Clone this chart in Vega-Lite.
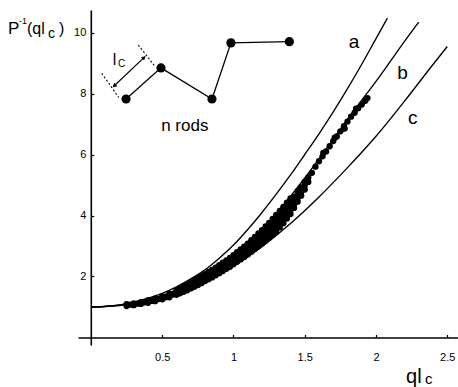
{
  "$schema": "https://vega.github.io/schema/vega-lite/v6.json",
  "width": 380,
  "height": 335,
  "autosize": "none",
  "padding": {"left": 78, "top": 10, "right": 0, "bottom": 42},
  "background": "white",
  "config": {"view": {"stroke": null}, "font": "Liberation Sans"},
  "datasets": {
    "curves": [
      {"curve": "a", "x": 0, "y": 1}, {"curve": "a", "x": 0.1, "y": 1.02}, {"curve": "a", "x": 0.2, "y": 1.07}, {"curve": "a", "x": 0.3, "y": 1.16},
      {"curve": "a", "x": 0.4, "y": 1.29}, {"curve": "a", "x": 0.5, "y": 1.45}, {"curve": "a", "x": 0.6, "y": 1.66}, {"curve": "a", "x": 0.7, "y": 1.92},
      {"curve": "a", "x": 0.8, "y": 2.22}, {"curve": "a", "x": 0.9, "y": 2.6}, {"curve": "a", "x": 1.0, "y": 3.03}, {"curve": "a", "x": 1.1, "y": 3.54},
      {"curve": "a", "x": 1.2, "y": 4.1}, {"curve": "a", "x": 1.3, "y": 4.7}, {"curve": "a", "x": 1.4, "y": 5.33}, {"curve": "a", "x": 1.5, "y": 6.0},
      {"curve": "a", "x": 1.6, "y": 6.68}, {"curve": "a", "x": 1.7, "y": 7.4}, {"curve": "a", "x": 1.8, "y": 8.16}, {"curve": "a", "x": 1.9, "y": 8.96},
      {"curve": "a", "x": 2.0, "y": 9.8}, {"curve": "a", "x": 2.08, "y": 10.47},
      {"curve": "b", "x": 0, "y": 1}, {"curve": "b", "x": 0.1, "y": 1.015}, {"curve": "b", "x": 0.2, "y": 1.06}, {"curve": "b", "x": 0.3, "y": 1.14},
      {"curve": "b", "x": 0.4, "y": 1.25}, {"curve": "b", "x": 0.5, "y": 1.38}, {"curve": "b", "x": 0.6, "y": 1.57}, {"curve": "b", "x": 0.7, "y": 1.79},
      {"curve": "b", "x": 0.8, "y": 2.06}, {"curve": "b", "x": 0.9, "y": 2.36}, {"curve": "b", "x": 1.0, "y": 2.7}, {"curve": "b", "x": 1.1, "y": 3.1},
      {"curve": "b", "x": 1.2, "y": 3.56}, {"curve": "b", "x": 1.3, "y": 4.07}, {"curve": "b", "x": 1.4, "y": 4.63}, {"curve": "b", "x": 1.5, "y": 5.23},
      {"curve": "b", "x": 1.6, "y": 5.86}, {"curve": "b", "x": 1.7, "y": 6.5}, {"curve": "b", "x": 1.8, "y": 7.16}, {"curve": "b", "x": 1.9, "y": 7.78},
      {"curve": "b", "x": 2.0, "y": 8.4}, {"curve": "b", "x": 2.1, "y": 9.05}, {"curve": "b", "x": 2.2, "y": 9.71}, {"curve": "b", "x": 2.3, "y": 10.34},
      {"curve": "c", "x": 0, "y": 1}, {"curve": "c", "x": 0.2, "y": 1.05}, {"curve": "c", "x": 0.4, "y": 1.19}, {"curve": "c", "x": 0.6, "y": 1.46},
      {"curve": "c", "x": 0.8, "y": 1.83}, {"curve": "c", "x": 1.0, "y": 2.34}, {"curve": "c", "x": 1.2, "y": 2.98}, {"curve": "c", "x": 1.4, "y": 3.74},
      {"curve": "c", "x": 1.6, "y": 4.61}, {"curve": "c", "x": 1.8, "y": 5.57}, {"curve": "c", "x": 2.0, "y": 6.6}, {"curve": "c", "x": 2.2, "y": 7.75},
      {"curve": "c", "x": 2.4, "y": 8.95}, {"curve": "c", "x": 2.5, "y": 9.54}
    ],
    "points": [
      {"x": 0.25, "y": 1.03}, {"x": 0.25, "y": 1.09}, {"x": 0.275, "y": 1.075}, {"x": 0.3, "y": 1.06}, {"x": 0.3, "y": 1.12},
      {"x": 0.325, "y": 1.11}, {"x": 0.35, "y": 1.1}, {"x": 0.35, "y": 1.16}, {"x": 0.375, "y": 1.15}, {"x": 0.4, "y": 1.14}, {"x": 0.4, "y": 1.22},
      {"x": 0.425, "y": 1.2}, {"x": 0.45, "y": 1.19}, {"x": 0.45, "y": 1.27}, {"x": 0.475, "y": 1.26}, {"x": 0.5, "y": 1.25}, {"x": 0.5, "y": 1.35},
      {"x": 0.525, "y": 1.32}, {"x": 0.55, "y": 1.32}, {"x": 0.55, "y": 1.44}, {"x": 0.575, "y": 1.41},
      {"x": 0.6, "y": 1.4}, {"x": 0.6, "y": 1.48}, {"x": 0.6, "y": 1.55},
      {"x": 0.625, "y": 1.45}, {"x": 0.625, "y": 1.53}, {"x": 0.625, "y": 1.61},
      {"x": 0.65, "y": 1.5}, {"x": 0.65, "y": 1.59}, {"x": 0.65, "y": 1.68},
      {"x": 0.675, "y": 1.55}, {"x": 0.675, "y": 1.65}, {"x": 0.675, "y": 1.74},
      {"x": 0.7, "y": 1.61}, {"x": 0.7, "y": 1.71}, {"x": 0.7, "y": 1.81},
      {"x": 0.725, "y": 1.66}, {"x": 0.725, "y": 1.77}, {"x": 0.725, "y": 1.88},
      {"x": 0.75, "y": 1.72}, {"x": 0.75, "y": 1.83}, {"x": 0.75, "y": 1.95},
      {"x": 0.775, "y": 1.78}, {"x": 0.775, "y": 1.9}, {"x": 0.775, "y": 2.01},
      {"x": 0.8, "y": 1.85}, {"x": 0.8, "y": 1.96}, {"x": 0.8, "y": 2.08},
      {"x": 0.825, "y": 1.91}, {"x": 0.825, "y": 2.03}, {"x": 0.825, "y": 2.15},
      {"x": 0.85, "y": 1.97}, {"x": 0.85, "y": 2.09}, {"x": 0.85, "y": 2.22},
      {"x": 0.875, "y": 2.04}, {"x": 0.875, "y": 2.16}, {"x": 0.875, "y": 2.29},
      {"x": 0.9, "y": 2.11}, {"x": 0.9, "y": 2.24}, {"x": 0.9, "y": 2.37},
      {"x": 0.925, "y": 2.18}, {"x": 0.925, "y": 2.31}, {"x": 0.925, "y": 2.45},
      {"x": 0.95, "y": 2.25}, {"x": 0.95, "y": 2.39}, {"x": 0.95, "y": 2.53},
      {"x": 0.975, "y": 2.32}, {"x": 0.975, "y": 2.47}, {"x": 0.975, "y": 2.61},
      {"x": 1.0, "y": 2.4}, {"x": 1.0, "y": 2.5}, {"x": 1.0, "y": 2.6}, {"x": 1.0, "y": 2.7},
      {"x": 1.025, "y": 2.48}, {"x": 1.025, "y": 2.59}, {"x": 1.025, "y": 2.69}, {"x": 1.025, "y": 2.8},
      {"x": 1.05, "y": 2.56}, {"x": 1.05, "y": 2.67}, {"x": 1.05, "y": 2.78}, {"x": 1.05, "y": 2.89},
      {"x": 1.075, "y": 2.64}, {"x": 1.075, "y": 2.76}, {"x": 1.075, "y": 2.87}, {"x": 1.075, "y": 2.98},
      {"x": 1.1, "y": 2.72}, {"x": 1.1, "y": 2.84}, {"x": 1.1, "y": 2.96}, {"x": 1.1, "y": 3.08},
      {"x": 1.125, "y": 2.81}, {"x": 1.125, "y": 2.93}, {"x": 1.125, "y": 3.06}, {"x": 1.125, "y": 3.19},
      {"x": 1.15, "y": 2.9}, {"x": 1.15, "y": 3.03}, {"x": 1.15, "y": 3.16}, {"x": 1.15, "y": 3.3},
      {"x": 1.175, "y": 2.99}, {"x": 1.175, "y": 3.13}, {"x": 1.175, "y": 3.27}, {"x": 1.175, "y": 3.41},
      {"x": 1.2, "y": 3.08}, {"x": 1.2, "y": 3.19}, {"x": 1.2, "y": 3.3}, {"x": 1.2, "y": 3.41}, {"x": 1.2, "y": 3.52},
      {"x": 1.225, "y": 3.17}, {"x": 1.225, "y": 3.29}, {"x": 1.225, "y": 3.4}, {"x": 1.225, "y": 3.52}, {"x": 1.225, "y": 3.64},
      {"x": 1.25, "y": 3.27}, {"x": 1.25, "y": 3.39}, {"x": 1.25, "y": 3.51}, {"x": 1.25, "y": 3.64}, {"x": 1.25, "y": 3.76},
      {"x": 1.275, "y": 3.37}, {"x": 1.275, "y": 3.5}, {"x": 1.275, "y": 3.63}, {"x": 1.275, "y": 3.76}, {"x": 1.275, "y": 3.89},
      {"x": 1.3, "y": 3.47}, {"x": 1.3, "y": 3.61}, {"x": 1.3, "y": 3.75}, {"x": 1.3, "y": 3.88}, {"x": 1.3, "y": 4.02},
      {"x": 1.325, "y": 3.61}, {"x": 1.325, "y": 3.74}, {"x": 1.325, "y": 3.88}, {"x": 1.325, "y": 4.01}, {"x": 1.325, "y": 4.15},
      {"x": 1.35, "y": 3.75}, {"x": 1.35, "y": 3.88}, {"x": 1.35, "y": 4.02}, {"x": 1.35, "y": 4.15}, {"x": 1.35, "y": 4.28},
      {"x": 1.375, "y": 3.9}, {"x": 1.375, "y": 4.03}, {"x": 1.375, "y": 4.16}, {"x": 1.375, "y": 4.29}, {"x": 1.375, "y": 4.42},
      {"x": 1.4, "y": 4.05}, {"x": 1.4, "y": 4.18}, {"x": 1.4, "y": 4.31}, {"x": 1.4, "y": 4.44}, {"x": 1.4, "y": 4.56},
      {"x": 1.425, "y": 4.25}, {"x": 1.425, "y": 4.37}, {"x": 1.425, "y": 4.49}, {"x": 1.425, "y": 4.61},
      {"x": 1.45, "y": 4.45}, {"x": 1.45, "y": 4.57}, {"x": 1.45, "y": 4.69}, {"x": 1.45, "y": 4.8},
      {"x": 1.475, "y": 4.65}, {"x": 1.475, "y": 4.78}, {"x": 1.475, "y": 4.92},
      {"x": 1.5, "y": 4.85}, {"x": 1.5, "y": 4.98}, {"x": 1.5, "y": 5.1},
      {"x": 1.525, "y": 5.1}, {"x": 1.525, "y": 5.25},
      {"x": 1.55, "y": 5.4}, {"x": 1.575, "y": 5.6},
      {"x": 1.6, "y": 5.78}, {"x": 1.625, "y": 5.94}, {"x": 1.63, "y": 6.05}, {"x": 1.65, "y": 6.1},
      {"x": 1.675, "y": 6.27}, {"x": 1.7, "y": 6.44}, {"x": 1.71, "y": 6.55}, {"x": 1.725, "y": 6.59},
      {"x": 1.75, "y": 6.76}, {"x": 1.775, "y": 6.93}, {"x": 1.78, "y": 6.85}, {"x": 1.8, "y": 7.08},
      {"x": 1.825, "y": 7.24}, {"x": 1.85, "y": 7.37}, {"x": 1.86, "y": 7.5}, {"x": 1.875, "y": 7.52},
      {"x": 1.9, "y": 7.64}, {"x": 1.925, "y": 7.76}, {"x": 1.94, "y": 7.85}
    ],
    "rods": [
      {"i": 1, "x": 0.246, "y": 7.82}, {"i": 2, "x": 0.491, "y": 8.84}, {"i": 3, "x": 0.849, "y": 7.82},
      {"i": 4, "x": 0.982, "y": 9.66}, {"i": 5, "x": 1.392, "y": 9.7}
    ],
    "guides": [
      {"seg": "arrow", "x": 0.156, "y": 8.22}, {"seg": "arrow", "x": 0.379, "y": 9.21},
      {"seg": "dash1", "x": 0.075, "y": 8.66}, {"seg": "dash1", "x": 0.195, "y": 7.87},
      {"seg": "dash2", "x": 0.332, "y": 9.59}, {"seg": "dash2", "x": 0.447, "y": 8.9}
    ],
    "heads": [
      {"end": "up", "x": 0.372, "y": 9.18}, {"end": "down", "x": 0.163, "y": 8.25}
    ],
    "labels": [
      {"g": "curve", "t": "a", "x": 1.846, "y": 9.7},
      {"g": "curve", "t": "b", "x": 2.187, "y": 8.66},
      {"g": "curve", "t": "c", "x": 2.258, "y": 7.19},
      {"g": "rods", "t": "n rods", "x": 0.658, "y": 6.78},
      {"g": "lc", "t": "l", "x": 0.165, "y": 8.93},
      {"g": "lcsub", "t": "C", "x": 0.214, "y": 8.86},
      {"g": "ytP", "t": "P", "x": -0.582, "y": 9.95},
      {"g": "ytsup", "t": "-1", "x": -0.505, "y": 10.27},
      {"g": "yt", "t": "(ql", "x": -0.449, "y": 9.95},
      {"g": "ytsub", "t": "c", "x": -0.302, "y": 9.82},
      {"g": "yt", "t": ")", "x": -0.225, "y": 9.95},
      {"g": "xtitle", "t": "ql", "x": 2.211, "y": -1.48},
      {"g": "xtitlesub", "t": "c", "x": 2.344, "y": -1.53}
    ]
  },
  "layer": [
    {
      "data": {"name": "curves"},
      "mark": {"type": "line", "color": "black", "strokeWidth": 1.35, "interpolate": "monotone"},
      "encoding": {
        "x": {
          "field": "x", "type": "quantitative",
          "scale": {"domain": [-0.0912, 2.5754], "nice": false, "zero": false},
          "axis": {"values": [0.5, 1, 1.5, 2, 2.5], "format": ".1~f", "title": null, "grid": false, "offset": -7.5,
                   "tickSize": -3, "labelPadding": 17, "domainColor": "black", "domainWidth": 1.6, "tickColor": "black",
                   "tickWidth": 1.2, "labelColor": "black", "labelFontSize": 11, "labelFont": "Liberation Sans",
                   "labelFlush": false, "labelOverlap": false}
        },
        "y": {
          "field": "y", "type": "quantitative",
          "scale": {"domain": [-0.246, 10.738], "nice": false, "zero": false},
          "axis": {"values": [2, 4, 6, 8, 10], "format": "d", "title": null, "grid": false, "offset": -12.8,
                   "tickSize": -3, "labelPadding": 8, "domainColor": "black", "domainWidth": 1.6, "tickColor": "black",
                   "tickWidth": 1.2, "labelColor": "black", "labelFontSize": 11, "labelFont": "Liberation Sans",
                   "labelFlush": false, "labelOverlap": false}
        },
        "detail": {"field": "curve"}
      }
    },
    {
      "data": {"name": "points"},
      "mark": {"type": "point", "shape": "circle", "filled": true, "color": "black", "size": 40, "opacity": 1},
      "encoding": {"x": {"field": "x", "type": "quantitative"}, "y": {"field": "y", "type": "quantitative"}}
    },
    {
      "data": {"name": "rods"},
      "mark": {"type": "line", "color": "black", "strokeWidth": 1.3},
      "encoding": {"x": {"field": "x", "type": "quantitative"}, "y": {"field": "y", "type": "quantitative"}, "order": {"field": "i"}}
    },
    {
      "data": {"name": "rods"},
      "mark": {"type": "point", "shape": "circle", "filled": true, "color": "black", "size": 85, "opacity": 1},
      "encoding": {"x": {"field": "x", "type": "quantitative"}, "y": {"field": "y", "type": "quantitative"}}
    },
    {
      "data": {"name": "guides"},
      "transform": [{"filter": "datum.seg == 'arrow'"}],
      "mark": {"type": "line", "color": "black", "strokeWidth": 1.2},
      "encoding": {"x": {"field": "x", "type": "quantitative"}, "y": {"field": "y", "type": "quantitative"}, "detail": {"field": "seg"}}
    },
    {
      "data": {"name": "guides"},
      "transform": [{"filter": "datum.seg != 'arrow'"}],
      "mark": {"type": "line", "color": "black", "strokeWidth": 1.1, "strokeDash": [2, 2]},
      "encoding": {"x": {"field": "x", "type": "quantitative"}, "y": {"field": "y", "type": "quantitative"}, "detail": {"field": "seg"}}
    },
    {
      "data": {"name": "heads"},
      "transform": [{"filter": "datum.end == 'up'"}],
      "mark": {"type": "point", "shape": "triangle-up", "filled": true, "color": "black", "size": 22, "angle": 47, "opacity": 1},
      "encoding": {"x": {"field": "x", "type": "quantitative"}, "y": {"field": "y", "type": "quantitative"}}
    },
    {
      "data": {"name": "heads"},
      "transform": [{"filter": "datum.end == 'down'"}],
      "mark": {"type": "point", "shape": "triangle-up", "filled": true, "color": "black", "size": 22, "angle": 227, "opacity": 1},
      "encoding": {"x": {"field": "x", "type": "quantitative"}, "y": {"field": "y", "type": "quantitative"}}
    },
    {
      "data": {"name": "labels"},
      "transform": [{"filter": "datum.g == 'curve'"}],
      "mark": {"type": "text", "fontSize": 19, "color": "black", "align": "center", "baseline": "middle", "font": "Liberation Sans"},
      "encoding": {"x": {"field": "x", "type": "quantitative"}, "y": {"field": "y", "type": "quantitative"}, "text": {"field": "t"}}
    },
    {
      "data": {"name": "labels"},
      "transform": [{"filter": "datum.g == 'rods'"}],
      "mark": {"type": "text", "fontSize": 17, "color": "black", "align": "center", "baseline": "alphabetic", "font": "Liberation Sans"},
      "encoding": {"x": {"field": "x", "type": "quantitative"}, "y": {"field": "y", "type": "quantitative"}, "text": {"field": "t"}}
    },
    {
      "data": {"name": "labels"},
      "transform": [{"filter": "datum.g == 'lc'"}],
      "mark": {"type": "text", "fontSize": 16, "color": "black", "align": "center", "baseline": "alphabetic", "font": "Liberation Sans"},
      "encoding": {"x": {"field": "x", "type": "quantitative"}, "y": {"field": "y", "type": "quantitative"}, "text": {"field": "t"}}
    },
    {
      "data": {"name": "labels"},
      "transform": [{"filter": "datum.g == 'lcsub'"}],
      "mark": {"type": "text", "fontSize": 10, "color": "black", "align": "center", "baseline": "alphabetic", "font": "Liberation Sans"},
      "encoding": {"x": {"field": "x", "type": "quantitative"}, "y": {"field": "y", "type": "quantitative"}, "text": {"field": "t"}}
    },
    {
      "data": {"name": "labels"},
      "transform": [{"filter": "datum.g == 'ytP'"}],
      "mark": {"type": "text", "fontSize": 17, "color": "black", "align": "left", "baseline": "alphabetic", "font": "Liberation Sans"},
      "encoding": {"x": {"field": "x", "type": "quantitative"}, "y": {"field": "y", "type": "quantitative"}, "text": {"field": "t"}}
    },
    {
      "data": {"name": "labels"},
      "transform": [{"filter": "datum.g == 'ytsup'"}],
      "mark": {"type": "text", "fontSize": 9, "color": "black", "align": "left", "baseline": "alphabetic", "font": "Liberation Sans"},
      "encoding": {"x": {"field": "x", "type": "quantitative"}, "y": {"field": "y", "type": "quantitative"}, "text": {"field": "t"}}
    },
    {
      "data": {"name": "labels"},
      "transform": [{"filter": "datum.g == 'yt'"}],
      "mark": {"type": "text", "fontSize": 16, "color": "black", "align": "left", "baseline": "alphabetic", "font": "Liberation Sans"},
      "encoding": {"x": {"field": "x", "type": "quantitative"}, "y": {"field": "y", "type": "quantitative"}, "text": {"field": "t"}}
    },
    {
      "data": {"name": "labels"},
      "transform": [{"filter": "datum.g == 'ytsub'"}],
      "mark": {"type": "text", "fontSize": 14, "color": "black", "align": "left", "baseline": "alphabetic", "font": "Liberation Sans"},
      "encoding": {"x": {"field": "x", "type": "quantitative"}, "y": {"field": "y", "type": "quantitative"}, "text": {"field": "t"}}
    },
    {
      "data": {"name": "labels"},
      "transform": [{"filter": "datum.g == 'xtitle'"}],
      "mark": {"type": "text", "fontSize": 20, "color": "black", "align": "left", "baseline": "alphabetic", "font": "Liberation Sans"},
      "encoding": {"x": {"field": "x", "type": "quantitative"}, "y": {"field": "y", "type": "quantitative"}, "text": {"field": "t"}}
    },
    {
      "data": {"name": "labels"},
      "transform": [{"filter": "datum.g == 'xtitlesub'"}],
      "mark": {"type": "text", "fontSize": 15, "color": "black", "align": "left", "baseline": "alphabetic", "font": "Liberation Sans"},
      "encoding": {"x": {"field": "x", "type": "quantitative"}, "y": {"field": "y", "type": "quantitative"}, "text": {"field": "t"}}
    }
  ]
}
